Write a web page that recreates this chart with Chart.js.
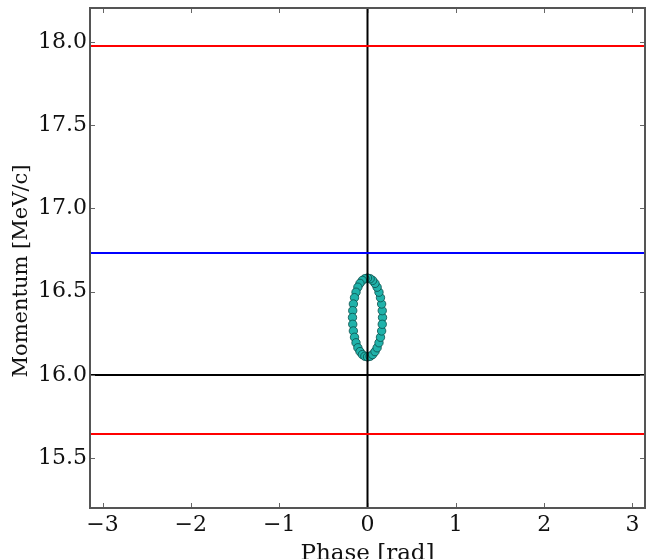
<!DOCTYPE html>
<html>
<head>
<meta charset="utf-8">
<script src="https://cdn.jsdelivr.net/npm/chart.js@4.4.1/dist/chart.umd.min.js"></script>
<style>
    html, body { margin: 0; padding: 0; background: #fff; }
    #wrap { width: 646px; height: 559px; }
</style>
</head>
<body>
<div id="wrap"><canvas id="myChart" width="646" height="559"></canvas></div>
<script>
// axis ranges and ticks
const xMin = -Math.PI;
const xMax = Math.PI;
const yMin = 15.2;
const yMax = 18.205;
const xTicks = [-3, -2, -1, 0, 1, 2, 3];
const yTicks = [15.5, 16.0, 16.5, 17.0, 17.5, 18.0];
const yTitle = 'Momentum [MeV/c]';
const xTitle = 'Phase [rad]';

// reference lines (momentum values)
const upperLimit = 17.977;
const lowerLimit = 15.645;
const blueLevel = 16.733;
const refMomentum = 16.0;
const refPhase = 0;

// bunch particles (phase, momentum)
const phase = [0.170, 0.167, 0.160, 0.147, 0.130, 0.109, 0.085, 0.058, 0.030, 0.000,
    -0.030, -0.058, -0.085, -0.109, -0.130, -0.147, -0.160, -0.167, -0.170, -0.167,
    -0.160, -0.147, -0.130, -0.109, -0.085, -0.058, -0.030, 0.000, 0.030, 0.058,
    0.085, 0.109, 0.130, 0.147, 0.160, 0.167];
const momentum = [16.345, 16.386, 16.426, 16.464, 16.497, 16.527, 16.550, 16.568, 16.578, 16.582,
    16.578, 16.568, 16.550, 16.527, 16.497, 16.464, 16.426, 16.386, 16.345, 16.304,
    16.264, 16.226, 16.193, 16.163, 16.140, 16.122, 16.112, 16.108, 16.112, 16.122,
    16.140, 16.163, 16.193, 16.226, 16.264, 16.304];

const fontFamily = "'DejaVu Serif', serif";

function hLine(y, color) {
    return {
        type: 'line',
        data: [{ x: xMin, y: y }, { x: xMax, y: y }],
        borderColor: color,
        borderWidth: 2,
        pointRadius: 0,
        fill: false,
        order: 1
    };
}

// matplotlib style ticks pointing inwards on all four sides, plus frame and y title
const inwardTicks = {
    id: 'inwardTicks',
    afterDraw(chart) {
        const ctx = chart.ctx;
        const area = chart.chartArea;
        const xs = chart.scales.x;
        const ys = chart.scales.y;
        const len = 5;
        ctx.save();
        ctx.strokeStyle = '#666';
        ctx.lineWidth = 1;
        ctx.beginPath();
        xTicks.forEach(v => {
            const px = Math.round(xs.getPixelForValue(v)) + 0.5;
            ctx.moveTo(px, area.bottom); ctx.lineTo(px, area.bottom - len);
            ctx.moveTo(px, area.top); ctx.lineTo(px, area.top + len);
        });
        yTicks.forEach(v => {
            const py = Math.round(ys.getPixelForValue(v)) + 0.5;
            ctx.moveTo(area.left, py); ctx.lineTo(area.left + len, py);
            ctx.moveTo(area.right, py); ctx.lineTo(area.right - len, py);
        });
        ctx.stroke();
        // frame
        ctx.strokeStyle = '#555';
        ctx.lineWidth = 2;
        ctx.strokeRect(area.left, area.top, area.right - area.left, area.bottom - area.top);

        // y axis title, a bit below the axis centre like in the original figure
        ctx.translate(22, (area.top + area.bottom) / 2 + 13);
        ctx.rotate(-Math.PI / 2);
        ctx.fillStyle = '#111';
        ctx.font = "21px " + fontFamily;
        ctx.textAlign = 'center';
        ctx.textBaseline = 'middle';
        ctx.fillText(yTitle, 0, 0);
        ctx.restore();
    }
};

const ctx = document.getElementById('myChart').getContext('2d');
new Chart(ctx, {
    type: 'scatter',
    data: {
        datasets: [
            hLine(upperLimit, '#ff0000'),
            hLine(lowerLimit, '#ff0000'),
            hLine(blueLevel, '#0000ff'),
            hLine(refMomentum, '#000000'),
            {
                type: 'line',
                data: [{ x: refPhase, y: yMin }, { x: refPhase, y: yMax }],
                borderColor: '#000000',
                borderWidth: 2,
                pointRadius: 0,
                fill: false,
                order: 1
            },
            {
                type: 'scatter',
                data: phase.map((p, i) => ({ x: p, y: momentum[i] })),
                backgroundColor: '#20b2aa',
                borderColor: '#0b4d49',
                borderWidth: 0.8,
                pointRadius: 4.2,
                order: 2
            }
        ]
    },
    options: {
        responsive: false,
        animation: false,
        events: [],
        layout: { autoPadding: false, padding: { left: 0, right: 1, top: 8, bottom: 0 } },
        plugins: {
            legend: { display: false },
            tooltip: { enabled: false }
        },
        scales: {
            x: {
                type: 'linear',
                min: xMin,
                max: xMax,
                afterBuildTicks: scale => { scale.ticks = xTicks.map(v => ({ value: v })); },
                afterFit: scale => {
                    scale.height = 51;
                    scale.paddingLeft = 0;
                    scale.paddingRight = 0;
                },
                grid: { display: false, drawTicks: false },
                border: { display: false },
                ticks: {
                    padding: 4,
                    color: '#111',
                    font: { family: fontFamily, size: 22 },
                    maxRotation: 0,
                    callback: v => String(v).replace('-', '\u2212')
                },
                title: {
                    display: true,
                    text: xTitle,
                    color: '#111',
                    font: { family: fontFamily, size: 23 },
                    padding: { top: 0, bottom: -9 }
                }
            },
            y: {
                type: 'linear',
                min: yMin,
                max: yMax,
                afterBuildTicks: scale => { scale.ticks = yTicks.map(v => ({ value: v })); },
                afterFit: scale => {
                    scale.width = 90;
                    scale.paddingTop = 0;
                    scale.paddingBottom = 0;
                },
                grid: { display: false, drawTicks: false },
                border: { display: false },
                ticks: {
                    padding: 3,
                    color: '#111',
                    font: { family: fontFamily, size: 22 },
                    callback: v => v.toFixed(1)
                }
            }
        }
    },
    plugins: [inwardTicks]
});
</script>
</body>
</html>
